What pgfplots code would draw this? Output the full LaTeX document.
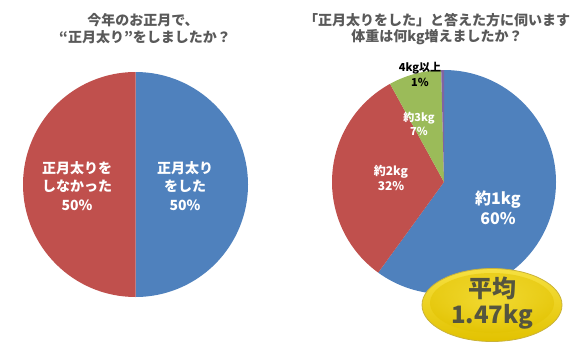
\documentclass[border=0pt]{standalone}
\usepackage{pgfplots}
\pgfplotsset{compat=1.18}
\usepackage{fontspec}
\setmainfont{Noto Sans CJK JP}
\definecolor{cBlue}{HTML}{4F81BD}
\definecolor{cRed}{HTML}{C0504D}
\definecolor{cGreen}{HTML}{9BBB59}
\definecolor{cPurple}{HTML}{8064A2}
\definecolor{cTitle}{HTML}{595959}
\definecolor{cBadgeTxt}{HTML}{55553F}
\definecolor{cBadgeA}{HTML}{F6E040}
\definecolor{cBadgeB}{HTML}{E2C200}
\definecolor{cBadgeEdge}{HTML}{C9B23A}
% slice: cx, cy, r, start percent, percent, colour
\newcommand\slice[6]{%
  \fill[#6] (axis cs:#1,#2) -- ++({90-3.6*#4}:#3pt)
    arc[start angle={90-3.6*#4}, delta angle={-3.6*#5}, radius=#3pt] -- cycle;}
\begin{document}
\begin{tikzpicture}
\fill[white] (0,0) rectangle (580pt,359pt);
\begin{axis}[at={(0,0)}, anchor=south west,
  width=580pt, height=359pt, scale only axis,
  xmin=0, xmax=580, ymin=0, ymax=359, y dir=reverse,
  hide axis, clip=false]
% left pie: 正月太りをした 50, しなかった 50
\slice{135.5}{184.5}{112.5}{0}{50}{cBlue}
\slice{135.5}{184.5}{112.5}{50}{50}{cRed}
% right pie: 約1kg 60, 約2kg 32, 約3kg 7, 4kg以上 1 (drawn as in the picture)
\slice{444}{182}{112}{0}{60}{cBlue}
\slice{444}{182}{112}{60}{32}{cRed}
\slice{444}{182}{112}{92}{7.6}{cGreen}
\slice{444}{182}{112}{99.6}{0.4}{cPurple}
% titles
\node[text=cTitle, font=\bfseries\fontsize{14}{16}\selectfont] at (axis cs:143,20) {今年のお正月で、};
\node[text=cTitle, font=\bfseries\fontsize{14}{16}\selectfont] at (axis cs:145,37) {“正月太り”をしましたか？};
\node[text=cTitle, font=\bfseries\fontsize{14}{16}\selectfont] at (axis cs:437,20) {「正月太りをした」と答えた方に伺います};
\node[text=cTitle, font=\bfseries\fontsize{14}{16}\selectfont] at (axis cs:437,37) {体重は何kg増えましたか？};
% left labels
\node[text=white, font=\bfseries\fontsize{14}{18.5}\selectfont, align=center] at (axis cs:77,186) {正月太りを\\しなかった\\50\%};
\node[text=white, font=\bfseries\fontsize{14}{18.5}\selectfont, align=center] at (axis cs:185,186) {正月太り\\をした\\50\%};
% right labels
\node[text=white, font=\bfseries\fontsize{16}{20}\selectfont, align=center] at (axis cs:498,208) {約1kg\\60\%};
\node[text=white, font=\bfseries\fontsize{12}{15}\selectfont, align=center] at (axis cs:391,178) {約2kg\\32\%};
\node[text=white, font=\bfseries\fontsize{11}{13.5}\selectfont, align=center] at (axis cs:419,124) {約3kg\\7\%};
\node[text=black, font=\bfseries\fontsize{11}{15}\selectfont, align=center] at (axis cs:420,74) {4kg以上\\1\%};
% badge
\shade[top color=cBadgeA, bottom color=cBadgeB, draw=cBadgeEdge, line width=0.8pt]
  (axis cs:492,305) ellipse [x radius=70pt, y radius=36.5pt];
\shade[inner color=cBadgeA, outer color=cBadgeB, opacity=0.5]
  (axis cs:492,303) ellipse [x radius=62pt, y radius=30pt];
\node[text=cBadgeTxt, font=\bfseries\fontsize{24}{26}\selectfont] at (axis cs:492,288) {平均};
\node[text=cBadgeTxt, font=\bfseries\fontsize{24}{26}\selectfont] at (axis cs:492,317) {1.47kg};
\end{axis}
\end{tikzpicture}
\end{document}
